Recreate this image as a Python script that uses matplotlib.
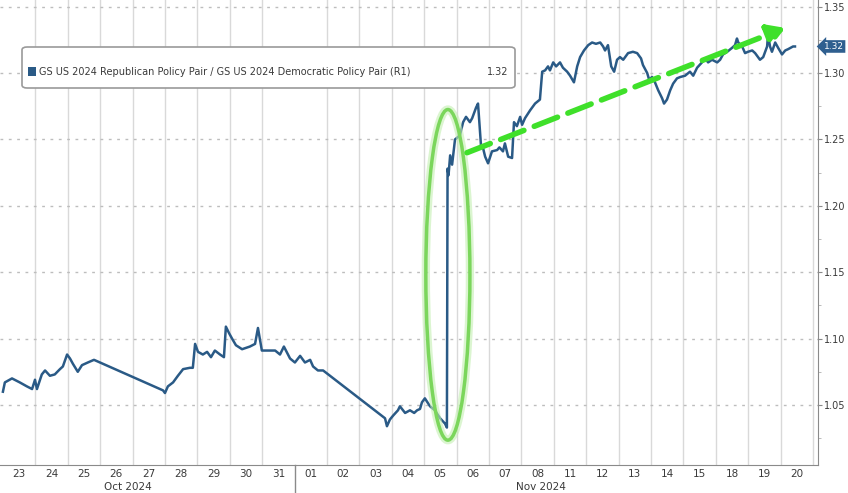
import matplotlib
matplotlib.use("Agg")
import matplotlib.pyplot as plt
from matplotlib.patches import Ellipse, FancyBboxPatch, Rectangle

# Trading-day axis: each day occupies one unit, day i spans [i, i+1]
day_labels = ["23", "24", "25", "26", "27", "28", "29", "30", "31",
              "01", "02", "03", "04", "05", "06", "07", "08",
              "11", "12", "13", "14", "15", "18", "19", "20"]
month_labels = ["Oct 2024", "Nov 2024"]
month_pos = [3.86, 16.6]
month_split = 9

# GS Republican / Democratic policy pair ratio
t = [0.00, 0.06, 0.28, 0.52, 0.74, 0.90, 0.99, 1.05, 1.20, 1.30, 1.45, 1.60,
     1.76, 1.85, 1.98, 2.07, 2.16, 2.31, 2.44, 2.62, 2.81,
     4.94, 5.00, 5.09, 5.25, 5.40, 5.56, 5.77, 5.86, 5.93, 6.02, 6.17, 6.30,
     6.42, 6.54, 6.70, 6.82, 6.88, 6.98, 7.07, 7.19, 7.38, 7.62, 7.78, 7.87,
     7.99, 8.40, 8.55, 8.67, 8.86, 9.01, 9.17, 9.32, 9.48, 9.57, 9.72, 9.88,
     11.79, 11.85, 11.94, 12.04, 12.19, 12.25, 12.41, 12.56, 12.69, 12.78,
     12.87, 12.93, 13.02, 13.18, 13.33, 13.49, 13.64, 13.70,
     13.72, 13.75, 13.80, 13.86, 13.95, 14.10, 14.20, 14.29, 14.41, 14.48,
     14.60, 14.66, 14.75, 14.81, 14.88, 14.97, 15.09, 15.25, 15.32, 15.43,
     15.49, 15.59, 15.71, 15.77, 15.86, 15.96, 16.02, 16.11, 16.27, 16.42,
     16.57, 16.64, 16.73, 16.82, 16.88, 16.98, 17.07, 17.19, 17.28, 17.41,
     17.50, 17.62, 17.72, 17.81, 17.93, 18.06, 18.18, 18.30, 18.43, 18.52,
     18.58, 18.67, 18.77, 18.86, 18.95, 19.04, 19.14, 19.29, 19.44, 19.57,
     19.69, 19.75, 19.88, 19.94, 20.03, 20.12, 20.22, 20.34, 20.40, 20.49,
     20.59, 20.68, 20.80, 20.90, 21.05, 21.20, 21.30, 21.42, 21.57, 21.67,
     21.76, 21.88, 22.04, 22.13, 22.22, 22.35, 22.50, 22.59, 22.65, 22.69,
     22.81, 22.90, 22.99, 23.12, 23.21, 23.36, 23.46, 23.58, 23.61, 23.67,
     23.73, 23.83, 23.92, 24.04, 24.14, 24.23, 24.38, 24.44]
ratio = [1.060, 1.067, 1.070, 1.067, 1.064, 1.062, 1.069, 1.062, 1.073, 1.076, 1.072, 1.073,
         1.077, 1.079, 1.088, 1.085, 1.081, 1.075, 1.080, 1.082, 1.084,
         1.061, 1.059, 1.064, 1.067, 1.072, 1.077, 1.078, 1.078, 1.096, 1.090, 1.088, 1.090,
         1.086, 1.091, 1.088, 1.086, 1.109, 1.104, 1.100, 1.095, 1.092, 1.094, 1.096, 1.108,
         1.091, 1.091, 1.088, 1.094, 1.085, 1.082, 1.087, 1.082, 1.084, 1.079, 1.076, 1.076,
         1.040, 1.034, 1.039, 1.042, 1.046, 1.049, 1.044, 1.046, 1.044, 1.046,
         1.047, 1.052, 1.055, 1.049, 1.046, 1.040, 1.036, 1.033,
         1.228, 1.223, 1.238, 1.231, 1.250, 1.253, 1.263, 1.267, 1.263, 1.266,
         1.274, 1.277, 1.246, 1.244, 1.237, 1.232, 1.241, 1.242, 1.244, 1.241,
         1.247, 1.237, 1.236, 1.263, 1.260, 1.267, 1.261, 1.266, 1.272, 1.277,
         1.280, 1.301, 1.302, 1.305, 1.302, 1.308, 1.305, 1.308, 1.304, 1.301,
         1.298, 1.293, 1.305, 1.312, 1.317, 1.321, 1.323, 1.322, 1.323, 1.320,
         1.317, 1.321, 1.305, 1.301, 1.310, 1.312, 1.310, 1.315, 1.316, 1.315,
         1.311, 1.306, 1.300, 1.295, 1.297, 1.293, 1.287, 1.281, 1.277, 1.280,
         1.287, 1.292, 1.296, 1.297, 1.298, 1.301, 1.298, 1.304, 1.308, 1.311,
         1.308, 1.310, 1.308, 1.310, 1.314, 1.316, 1.319, 1.321, 1.326, 1.323,
         1.320, 1.315, 1.316, 1.317, 1.315, 1.310, 1.312, 1.320, 1.329, 1.320,
         1.316, 1.323, 1.319, 1.314, 1.317, 1.318, 1.320, 1.320]
last_value = 1.32

y_ticks = [1.05, 1.10, 1.15, 1.20, 1.25, 1.30, 1.35]
y_minor = [1.025, 1.075, 1.125, 1.175, 1.225, 1.275, 1.325]

# Annotations: election-night ellipse and trend arrow
ellipse_center = (13.73, 1.148)
ellipse_size = (1.36, 0.249)
arrow_start = (14.32, 1.240)
arrow_end = (24.14, 1.334)

line_color = "#2a5a86"
grid_color = "#d9d9d9"
text_color = "#3a3a3a"

fig = plt.figure(figsize=(8.48, 4.93), dpi=100)
ax = fig.add_axes([0.0, 0.0568, 0.9646, 0.9432])

ax.set_xlim(-0.09, 25.15)
ax.set_ylim(1.0048, 1.355)

# vertical day grid
for i in range(1, len(day_labels) + 1):
    if i == month_split:
        continue
    ax.axvline(i, color=grid_color, lw=1.0, zorder=0)
# horizontal dotted grid
for yv in y_ticks:
    ax.axhline(yv, color="#bdbdbd", lw=1.0, ls=(0, (2, 4)), zorder=0)

ax.plot(t, ratio, color=line_color, lw=1.8, zorder=3)

ell = Ellipse(ellipse_center, ellipse_size[0], ellipse_size[1], fill=False,
              edgecolor="#c4efb2", lw=6, alpha=0.6, zorder=4)
ax.add_patch(ell)
ell2 = Ellipse(ellipse_center, ellipse_size[0], ellipse_size[1], fill=False,
               edgecolor="#7bd65c", lw=2.5, zorder=5)
ax.add_patch(ell2)

ax.annotate("", xy=arrow_end, xytext=arrow_start,
            arrowprops=dict(arrowstyle="-|>,head_length=1.0,head_width=0.6",
                            color="#3fe02a", lw=4, ls=(0, (4.5, 2)),
                            shrinkA=0, shrinkB=0),
            zorder=6)

# axes styling
for side in ["top", "left"]:
    ax.spines[side].set_visible(False)
ax.spines["right"].set_color("#8a8a8a")
ax.spines["bottom"].set_color("#8a8a8a")
ax.yaxis.tick_right()
ax.set_yticks(y_ticks)
ax.set_yticklabels([f"{v:.2f}" for v in y_ticks], fontsize=7, color=text_color)
ax.set_yticks(y_minor, minor=True)
ax.tick_params(axis="y", which="major", length=3, color="#8a8a8a", pad=1)
ax.tick_params(axis="y", which="minor", length=2, color="#b0b0b0")

ax.set_xticks([i + 0.5 for i in range(len(day_labels))])
ax.set_xticklabels(day_labels, fontsize=7.5, color=text_color)
ax.tick_params(axis="x", length=0, pad=3)

for lbl, pos in zip(month_labels, month_pos):
    ax.text(pos, -0.047, lbl, transform=ax.get_xaxis_transform(),
            ha="center", va="center", fontsize=7.5, color=text_color)
ax.plot([month_split, month_split], [0, -0.06], transform=ax.get_xaxis_transform(),
        color="#8a8a8a", lw=1, clip_on=False)

# legend box
box = FancyBboxPatch((22 / 848, 1 - 88 / 493), 493 / 848, 41 / 493,
                     boxstyle="round,pad=0,rounding_size=0.006",
                     transform=fig.transFigure, facecolor="white",
                     edgecolor="#9a9a9a", lw=1.2, zorder=10)
fig.patches.append(box)
fig.patches.append(Rectangle((28 / 848, 1 - 76 / 493), 8 / 848, 9 / 493,
                             transform=fig.transFigure, facecolor=line_color,
                             edgecolor="none", zorder=11))
fig.text(39 / 848, 1 - 72 / 493,
         "GS US 2024 Republican Policy Pair / GS US 2024 Democratic Policy Pair (R1)",
         fontsize=7, color=text_color, va="center", zorder=12)
fig.text(508 / 848, 1 - 72 / 493, f"{last_value:.2f}", fontsize=7,
         color=text_color, va="center", ha="right", zorder=12)

# last value tag on the right axis
ax.annotate(f"{last_value:.2f}", xy=(1.0, last_value), xycoords=("axes fraction", "data"),
            xytext=(4, 0), textcoords="offset points", va="center", ha="left",
            fontsize=6.5, color="white",
            bbox=dict(boxstyle="larrow,pad=0.2", facecolor="#2f5f8f", edgecolor="none"),
            annotation_clip=False)

fig.savefig("out.png", dpi=100)
